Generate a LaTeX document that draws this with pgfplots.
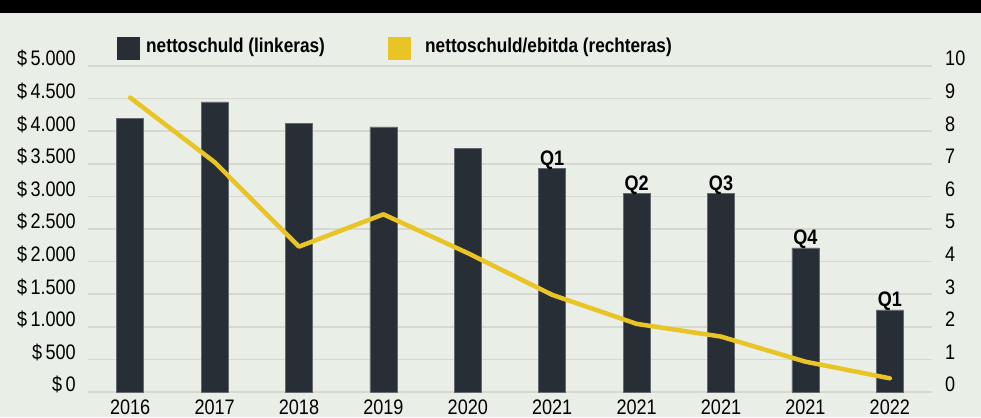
\documentclass[border=0pt]{standalone}
\usepackage{pgfplots}
\pgfplotsset{compat=1.18}
\usepackage{fontspec}
\setmainfont{Liberation Sans}[FakeStretch=0.86]
\definecolor{bg}{RGB}{233,238,231}
\definecolor{barc}{RGB}{40,46,53}
\definecolor{baredge}{RGB}{100,106,112}
\definecolor{gold}{RGB}{232,196,36}
\definecolor{gridc}{RGB}{216,216,211}
\begin{document}
\begin{tikzpicture}[x=1pt,y=1pt]
\useasboundingbox (0,0) rectangle (981,417);
\fill[bg] (0,0) rectangle (981,417);
\fill[black] (0,404) rectangle (981,417);
\begin{axis}[
  at={(88pt,25pt)}, anchor=south west, scale only axis,
  width=844pt, height=326pt,
  xmin=-0.5, xmax=9.5, ymin=0, ymax=5000,
  axis line style={draw=none}, major tick length=0pt,
  ytick={0,500,...,5000},
  yticklabels={\$\,0,\$\,500,\$\,1.000,\$\,1.500,\$\,2.000,\$\,2.500,\$\,3.000,\$\,3.500,\$\,4.000,\$\,4.500,\$\,5.000},
  ymajorgrids, grid style={gridc, line width=1.5pt},
  xtick={0,...,9},
  xticklabels={2016,2017,2018,2019,2020,2021,2021,2021,2021,2022},
  xticklabel style={anchor=north, inner sep=0pt, yshift=-8pt},
  yticklabel style={anchor=base east, inner sep=0pt, xshift=-12pt},
  tick label style={font=\fontsize{21}{24}\selectfont},
  ybar, bar width=27pt,
  clip=false,
]
\addplot[fill=barc, draw=baredge, line width=0.6pt, bar shift=0pt] coordinates {
  (0,4200) (1,4450) (2,4120) (3,4065) (4,3740)
};
\addplot[fill=barc, draw=baredge, line width=0.6pt, bar shift=0pt,
  nodes near coords, point meta=explicit symbolic,
  every node near coord/.style={font=\bfseries\fontsize{21}{24}\selectfont, anchor=base, inner sep=0pt, yshift=3pt, text=black}] coordinates {
  (5,3425) [Q1] (6,3050) [Q2] (7,3050) [Q3] (8,2210) [Q4] (9,1260) [Q1]
};
\end{axis}
\begin{axis}[
  at={(88pt,25pt)}, anchor=south west, scale only axis,
  width=844pt, height=326pt,
  xmin=-0.5, xmax=9.5, ymin=0, ymax=10,
  axis x line=none, axis y line*=right,
  axis line style={draw=none}, major tick length=0pt,
  ytick={0,1,2,3,4,5,6,7,8,9,10},
  yticklabels={0,1,2,3,4,5,6,7,8,9,10},
  yticklabel style={anchor=base west, inner sep=0pt, xshift=13pt},
  tick label style={font=\fontsize{21}{24}\selectfont},
  clip=false,
]
\addplot[gold, line width=4.5pt, line join=round, line cap=round] coordinates {
  (0,9.03) (1,7.05) (2,4.46) (3,5.45) (4,4.26) (5,2.98) (6,2.09) (7,1.70) (8,0.93) (9,0.42)
};
\end{axis}
\fill[barc] (117,357) rectangle (140,380);
\node[anchor=base west, inner sep=0pt, font=\bfseries\fontsize{20}{24}\selectfont] at (146,364) {nettoschuld (linkeras)};
\fill[gold] (388,357) rectangle (411,380);
\node[anchor=base west, inner sep=0pt, font=\bfseries\fontsize{20}{24}\selectfont] at (425,364) {nettoschuld/ebitda (rechteras)};
\end{tikzpicture}
\end{document}
